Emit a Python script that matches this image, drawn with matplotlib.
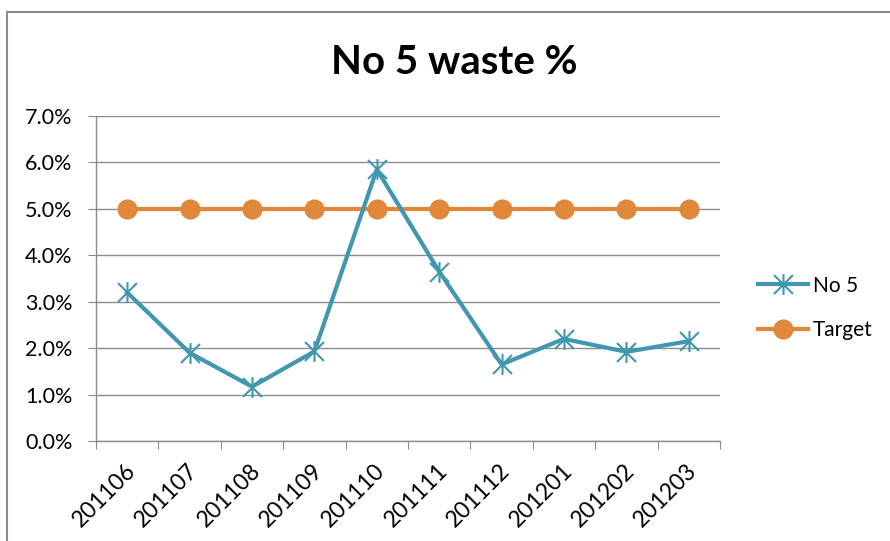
import matplotlib
matplotlib.use("Agg")
import matplotlib.pyplot as plt
from matplotlib.path import Path
from matplotlib.patches import Rectangle
from matplotlib.ticker import FuncFormatter, FixedLocator
from matplotlib.transforms import ScaledTranslation

months = ["201106", "201107", "201108", "201109", "201110",
          "201111", "201112", "201201", "201202", "201203"]
no5 = [3.2, 1.9, 1.17, 1.93, 5.85, 3.65, 1.65, 2.2, 1.92, 2.15]
target = [5.0] * 10

TEAL = "#4097AF"
ORANGE = "#E0873A"
GRID = "#8C8C8C"

# asterisk marker: an X with a vertical stroke through it
star = Path([(-1, -1), (1, 1), (-1, 1), (1, -1), (0, -1.1), (0, 1.1)],
            [Path.MOVETO, Path.LINETO, Path.MOVETO, Path.LINETO,
             Path.MOVETO, Path.LINETO])

plt.rcParams["font.family"] = ["Lato", "DejaVu Sans"]

fig = plt.figure(figsize=(8.9, 5.41), dpi=100)
fig.patch.set_facecolor("white")

# chart frame
fig.patches.append(Rectangle((7 / 890, -0.05), 1.0, 1 - 12 / 541 + 0.05,
                             transform=fig.transFigure, fill=False,
                             edgecolor="#8a8a8a", linewidth=1.5))

ax = fig.add_axes([96 / 890, 1 - 441 / 541, 624 / 890, 325 / 541])

x = [i + 0.5 for i in range(len(months))]
ax.plot(x, no5, color=TEAL, linewidth=3, marker=star, markersize=15,
        markeredgewidth=1.5, markeredgecolor=TEAL, label="No 5", zorder=4)
ax.plot(x, target, color=ORANGE, linewidth=3, marker="o", markersize=13.5,
        markeredgecolor=ORANGE, markerfacecolor=ORANGE, label="Target", zorder=3)

ax.set_xlim(0, len(months))
ax.set_ylim(0, 7)
ax.yaxis.set_major_locator(FixedLocator([i for i in range(8)]))
ax.yaxis.set_major_formatter(FuncFormatter(lambda v, p: f"{v:.1f}%"))
ax.grid(axis="y", color=GRID, linewidth=1)
ax.set_axisbelow(True)

ax.xaxis.set_major_locator(FixedLocator(range(len(months) + 1)))
ax.xaxis.set_major_formatter(FuncFormatter(lambda v, p: ""))
ax.xaxis.set_minor_locator(FixedLocator(x))
ax.set_xticklabels(months, minor=True, rotation=45, ha="right", va="center",
                   rotation_mode="anchor", fontsize=16.5)
ax.tick_params(axis="x", which="minor", length=0, pad=19)
ax.tick_params(axis="x", which="major", length=6, color=GRID, direction="out")
ax.tick_params(axis="y", length=6, color=GRID, direction="out", labelsize=15.5, pad=11)

# nudge the slanted month labels a little to the right
shift = ScaledTranslation(5 / 100, 0, fig.dpi_scale_trans)
for lbl in ax.get_xticklabels(minor=True):
    lbl.set_transform(lbl.get_transform() + shift)

for s in ("top", "right"):
    ax.spines[s].set_visible(False)
for s in ("left", "bottom"):
    ax.spines[s].set_color(GRID)
    ax.spines[s].set_linewidth(1)

fig.text(454 / 890, 1 - 62 / 541, "No 5 waste %", ha="center", va="center",
         fontsize=29, fontweight="bold")

ax.legend(loc="center left", bbox_to_anchor=(739 / 890, 1 - 308 / 541),
          bbox_transform=fig.transFigure, frameon=False, fontsize=15,
          handlelength=2.4, handletextpad=0.25, labelspacing=1.2)

fig.savefig("out.png", dpi=100)
